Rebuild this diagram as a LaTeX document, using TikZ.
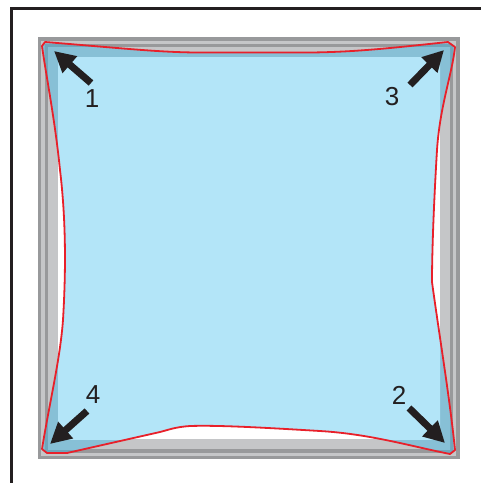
\documentclass[tikz,border=0pt]{standalone}
\usepackage{fontspec}
\setmainfont{Liberation Sans}
\usetikzlibrary{arrows.meta}
\definecolor{inkblack}{HTML}{231F20}
\definecolor{framedark}{HTML}{98999B}
\definecolor{framelight}{HTML}{C5C6C8}
\definecolor{sheetred}{HTML}{E8202A}
\definecolor{sheetblue}{HTML}{B3E5F8}
\definecolor{sheetonlight}{HTML}{87C0D6}
\definecolor{sheetondark}{HTML}{6FA6BB}
\tikzset{
  sheet/.style={insert path={
    (45,42) .. controls (120,48) and (160,52.5) .. (200,52.5)
    -- (310,52.5) .. controls (360,52) and (400,47) .. (448,42)
    -- (455,47)
    .. controls (452,75) and (440,105) .. (437,150)
    .. controls (434,200) and (432,250) .. (432,282)
    .. controls (440,340) and (450,400) .. (455,450)
    -- (450,454)
    .. controls (410,446) and (370,434) .. (320,431)
    .. controls (270,428) and (220,425) .. (190,426)
    .. controls (175,427) and (168,430) .. (160,432)
    -- (67,453) -- (47,453) -- (42,449)
    .. controls (50,400) and (60,360) .. (63,320)
    .. controls (66,270) and (66,220) .. (60,170)
    .. controls (55,120) and (46,75) .. (42,46) -- cycle}},
  bigarrow/.style={draw=inkblack, line width=7pt, -{Triangle[length=21pt,width=21pt]}},
  numlabel/.style={font=\fontsize{26}{26}\selectfont, text=inkblack, inner sep=0pt}
}
\begin{document}
\begin{tikzpicture}[x=1pt,y=-1pt]
\useasboundingbox (0,0) rectangle (481,483);
% outer page frame
\coordinate (fb) at (11,483);
\coordinate (fc) at (11,8);
\coordinate (fr) at (481,8);
\draw[inkblack, line width=3pt] (fb) -- (fc) -- (fr);
% window frame
\fill[framedark] (38,37) rectangle (459.5,459);
\fill[framelight] (41,40.5) rectangle (456,456);
\fill[framedark] (44.5,44) rectangle (453,453);
\fill[framelight] (48,47) rectangle (450,449);
\fill[white] (58,57) rectangle (440,439);
% sheet
\fill[sheetondark, sheet];
\begin{scope}
  \clip (41,40.5) rectangle (456,456);
  \fill[sheetonlight, sheet];
  \begin{scope}
    \clip (44.5,44) rectangle (453,453);
    \fill[sheetondark, sheet];
    \begin{scope}
      \clip (48,47) rectangle (450,449);
      \fill[sheetonlight, sheet];
      \begin{scope}
        \clip (58,57) rectangle (440,439);
        \fill[sheetblue, sheet];
      \end{scope}
    \end{scope}
  \end{scope}
\end{scope}
\draw[sheetred, line width=1.8pt, line join=round, sheet];
% arrows
\coordinate (t1) at (91,83);   \coordinate (h1) at (54,51);
\coordinate (t3) at (410,85);  \coordinate (h3) at (444,50);
\coordinate (t4) at (87,411);  \coordinate (h4) at (50,444);
\coordinate (t2) at (409,408); \coordinate (h2) at (445,443);
\draw[bigarrow] (t1) -- (h1);
\draw[bigarrow] (t3) -- (h3);
\draw[bigarrow] (t4) -- (h4);
\draw[bigarrow] (t2) -- (h2);
% labels
\node[numlabel] (n1) at (92,99) {1};
\node[numlabel] (n3) at (392,97) {3};
\node[numlabel] (n4) at (93,395) {4};
\node[numlabel] (n2) at (399,395) {2};
\end{tikzpicture}
\end{document}
